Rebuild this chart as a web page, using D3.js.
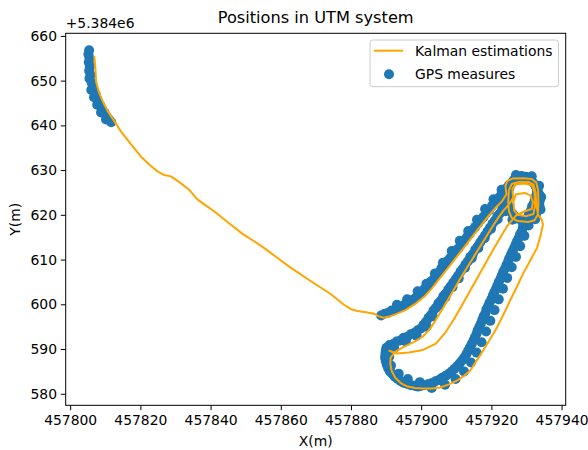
<!DOCTYPE html>
<html><head><meta charset="utf-8">
<script src="https://cdn.jsdelivr.net/npm/d3@7"></script>
<style>body{margin:0;background:#fff;} svg text{font-family:"DejaVu Sans",sans-serif;}</style>
</head><body>
<svg id="chart" width="588" height="450"></svg>
<script>
// ---- data (Y values are relative to the axis offset 5.384e6) ----
const Y_OFFSET_LABEL = "+5.384e6";
const chartTitle = "Positions in UTM system";
const xLabel = "X(m)";
const yLabel = "Y(m)";
const seriesNames = ["Kalman estimations", "GPS measures"];
const xTicks = [457800, 457820, 457840, 457860, 457880, 457900, 457920, 457940];
const yTicks = [580, 590, 600, 610, 620, 630, 640, 650, 660];

const kalmanPath = [
[457806.9,655.3],[457807.2,652.5],[457807.4,649.7],[457808.2,647.4],[457809.3,645.3],[457810.6,643.3],[457812.1,641.5],[457814.5,638.6],[457817.3,635.8],[457820.2,633.0],[457822.6,631.2],[457824.9,629.7],[457826.8,628.9],[457828.7,628.6],[457831.3,627.2],[457833.9,625.6],[457836.3,623.4],[457838.6,622.1],[457841.0,620.8],[457845.8,617.8],[457849.0,615.8],[457852.4,614.1],[457855.2,612.6],[457859.0,610.4],[457862.8,608.2],[457868.5,605.2],[457874.2,602.3],[457878.0,599.9],[457880.0,598.9],[457881.8,598.5],[457884.3,598.2],[457886.5,597.9],[457888.0,597.3],[457889.3,597.0],
[457891.0,597.3],[457892.5,597.7],[457895.5,598.7],[457898.5,600.2],[457901.0,601.8],[457903.0,603.5],[457905.0,605.5],[457907.0,607.5],[457909.0,609.5],[457911.0,611.5],[457913.0,613.5],[457915.0,615.6],[457917.0,617.6],[457919.0,619.6],[457921.0,621.4],[457923.0,623.0],[457924.3,624.6],
[457924.0,626.5],[457924.6,627.6],[457926.0,628.1],[457929.0,628.2],[457931.5,628.0],[457932.8,627.2],[457933.3,625.5],[457933.4,622.5],[457933.2,620.0],[457932.3,618.8],[457930.5,618.4],[457927.5,618.6],[457925.8,619.3],[457925.0,620.8],[457924.8,623.0],[457925.0,625.5],[457925.8,626.9],[457927.5,627.3],[457930.5,627.4],[457932.0,626.8],[457932.6,625.0],[457932.8,622.3],[457933.3,620.0],
[457934.3,619.0],[457934.7,617.9],[457934.0,615.3],[457933.0,612.6],[457931.0,609.7],[457929.0,606.8],[457927.2,603.8],[457925.3,600.8],[457923.5,597.8],[457921.6,594.8],[457919.6,592.2],[457917.6,589.6],[457915.8,587.4],[457914.0,585.2],[457912.2,584.0],[457910.3,583.0],[457907.9,582.1],[457905.4,581.4],[457903.0,581.2],[457900.6,581.2],[457898.3,581.3],[457896.1,581.6],[457894.2,582.4],[457892.6,583.6],[457891.6,585.1],[457891.2,586.7],[457891.3,588.1],
[457892.5,589.3],[457895.0,590.5],[457898.0,591.6],[457900.5,592.8],[457902.5,594.5],[457904.0,596.3],[457905.5,598.2],[457907.0,600.2],[457908.5,602.2],[457910.0,604.2],[457911.5,606.2],[457913.0,608.1],[457914.5,610.0],[457916.0,611.9],[457917.5,613.8],[457919.0,615.7],[457920.5,617.6],[457922.0,619.4],[457923.5,621.0],[457925.0,622.3],
[457926.2,623.8],[457926.0,625.8],[457926.8,626.8],[457929.5,627.0],[457931.6,626.6],[457932.3,625.0],[457932.4,622.0],[457932.0,620.2],[457930.0,619.7],[457927.5,620.0],[457926.5,621.0],[457926.3,623.0],[457927.0,624.6],[457929.5,624.9],[457931.2,624.3],[457931.8,622.8],[457931.5,621.3],[457929.5,620.8],
[457927.0,619.8],[457924.5,617.5],[457922.0,614.2],[457919.5,610.8],[457917.0,607.3],[457914.5,603.8],[457912.0,600.3],[457909.5,596.9],[457907.0,593.8],[457904.2,591.2],[457900.5,589.8],[457896.5,589.2],[457893.0,589.0],[457891.0,589.6]
];

const gpsStart = [
[457805.4,656.8],[457805.2,655.9],[457805.5,655.0],[457805.3,654.1],[457805.6,653.1],[457805.4,652.2],[457805.8,651.3],[457805.5,650.5],[457806.1,649.6],[457806.4,648.6],[457806.0,647.9],[457806.9,647.7],[457807.3,646.9],[457806.8,646.3],[457807.6,646.0],[457808.0,645.2],[457807.7,644.6],[457808.6,644.4],[457809.1,643.6],[457808.8,642.9],[457809.8,642.8],[457810.4,642.0],[457810.2,641.3],[457811.1,641.3],[457811.7,640.7]
];
const gpsOuter = [
[457888.6,597.5],[457889.6,597.9],[457890.6,598.1],[457891.6,598.6],[457892.6,598.8],[457893.6,599.3],[457894.6,599.5],[457895.6,600.1],[457896.6,600.4],[457897.6,601.0],[457898.5,601.5],[457899.4,602.2],[457900.2,602.6],[457901.0,603.5],[457901.8,604.1],[457902.6,605.0],[457903.4,605.5],[457904.2,606.5],[457905.0,607.1],[457905.8,608.1],[457906.6,608.7],[457907.4,609.6],[457908.2,610.3],[457909.0,611.0],[457909.8,611.9],[457910.6,612.5],[457911.4,613.5],[457912.2,614.1],[457913.0,615.0],[457913.8,615.7],[457914.6,616.6],[457915.4,617.3],[457916.2,618.1],[457917.0,618.9],[457917.8,619.6],[457918.6,620.5],[457919.4,621.1],[457920.2,622.0],[457921.0,622.7],[457921.8,623.6],[457922.6,624.2],[457923.4,625.1],[457924.2,625.7],[457925.0,626.6],[457925.8,627.2],
[457893.1,599.9],[457896.0,601.1],[457899.0,602.9],[457901.5,604.6],[457903.9,606.9],[457906.2,609.3],[457908.7,611.9],[457911.0,614.2],[457913.4,616.4],[457915.9,618.9],[457918.2,621.3],[457920.6,623.5],[457922.9,625.6]
];
const gpsInner = [
[457890.1,590.3],[457891.0,590.9],[457892.0,591.1],[457893.0,591.7],[457894.0,591.9],[457895.0,592.5],[457896.0,592.7],[457897.0,593.3],[457898.0,593.6],[457899.0,594.2],[457899.9,594.6],[457900.7,595.4],[457901.4,596.1],[457902.1,597.0],[457902.8,597.6],[457903.5,598.6],[457904.2,599.2],[457904.9,600.2],[457905.6,600.8],[457906.3,601.8],[457907.0,602.4],[457907.7,603.3],[457908.4,604.0],[457909.1,604.8],[457909.8,605.6],[457910.5,606.4],[457911.2,607.3],[457911.9,608.0],[457912.6,608.9],[457913.3,609.6],[457914.0,610.6],[457914.7,611.2],[457915.4,612.2],[457916.1,612.9],[457916.8,613.8],[457917.5,614.6],[457918.2,615.4],[457918.9,616.3],[457919.6,617.1],[457920.3,618.0],[457921.0,618.7],[457921.7,619.7],[457922.4,620.3],[457923.1,621.3],[457923.8,621.9],[457924.5,622.8],
[457892.3,590.2],[457895.6,591.7],[457898.7,593.0],[457901.5,595.0],[457903.3,597.3],[457905.1,599.8],[457906.9,601.5],[457908.9,603.8],[457910.7,605.8],[457912.5,608.2],[457914.4,610.3],[457916.3,612.6],[457918.1,614.8],[457919.9,616.9],[457921.8,619.0],[457923.6,621.0]
];
const gpsRight = [
[457933.0,625.2],[457932.8,624.3],[457932.4,623.5],[457932.1,622.6],[457931.6,621.9],[457931.3,621.0],[457930.7,620.3],[457930.4,619.4],[457929.9,618.8],[457929.5,617.9],[457929.0,617.2],[457928.7,616.3],[457928.2,615.7],[457927.8,614.8],[457927.3,614.1],[457926.9,613.3],[457926.5,612.6],[457926.0,611.8],[457925.6,611.1],[457925.1,610.3],[457924.8,609.6],[457924.3,608.8],[457923.9,608.0],[457923.4,607.3],[457923.0,606.5],[457922.6,605.7],[457922.1,605.0],[457921.7,604.2],[457921.3,603.4],[457920.8,602.7],[457920.4,601.9],[457920.0,601.1],[457919.5,600.4],[457919.1,599.6],[457918.6,598.9],[457918.3,598.0],[457917.8,597.3],[457917.4,596.5],[457917.0,595.7],[457916.6,595.0],[457916.1,594.2],[457915.8,593.4],[457915.3,592.6],[457914.9,591.9],[457914.4,591.1],[457913.9,590.4],[457913.4,589.6],[457912.9,588.9],[457912.3,588.1],[457911.7,587.5],[457911.0,586.8],[457910.3,586.2],[457909.5,585.6],[457908.7,585.0],[457907.9,584.5],[457907.0,584.0],[457906.0,583.6],[457905.1,583.1],[457904.1,582.8],[457903.1,582.4],[457902.1,582.2],[457901.1,581.9],[457900.1,581.8],[457899.1,581.6],[457898.1,581.8],[457897.1,581.9],[457896.1,582.2],[457895.1,582.4],[457894.2,582.8],[457893.3,583.3],[457892.5,583.8],[457891.8,584.4],[457891.1,585.0],[457890.6,585.7],[457890.2,586.5],[457889.9,587.3],[457889.7,588.1],[457889.8,588.9],[457889.9,589.6],
[457933.6,624.6],[457932.8,622.0],[457931.9,620.0],[457930.6,617.6],[457929.4,615.3],[457928.2,613.0],[457927.0,610.6],[457925.8,608.3],[457924.5,605.9],[457923.3,603.5],[457922.1,601.1],[457920.9,598.7],[457919.7,596.3],[457918.5,593.9],[457917.2,591.5],[457915.8,589.2],[457914.2,587.0],[457912.2,585.0],[457909.8,583.3],[457906.8,582.0],[457903.0,581.3],[457899.6,582.6],[457896.2,583.3],[457893.6,584.5],[457891.4,586.3],[457890.9,588.3]
];
const gpsCorner = [
[457925.5,626.8],[457926.5,627.9],[457927.5,628.5],[457928.6,628.7],[457929.8,628.5],[457930.9,628.0],[457931.8,627.3],[457932.6,626.4],[457933.2,625.4],[457933.6,624.3],[457933.8,623.2],[457933.7,622.1],[457933.3,621.0],[457932.7,620.1],[457931.9,619.4],[457930.9,618.9],[457929.9,618.7],[457928.8,618.8],[457927.8,619.1],[457926.8,619.6],[457926.0,620.3],[457925.3,621.1],[457924.8,622.0],[457924.5,623.0],[457924.5,624.0],[457924.7,625.0],[457925.1,625.9],
[457927.0,628.9],[457931.5,628.6],[457933.6,626.5],[457934.2,624.0],[457934.0,621.2],[457932.5,619.0],[457929.0,618.2],[457926.0,618.9],[457924.0,620.8],[457923.5,623.2],[457924.0,625.8]
];
const gpsMeasures = [].concat(gpsStart, gpsOuter, gpsInner, gpsRight, gpsCorner);

// ---- layout ----
const W = 588, H = 450;
const plot = {left: 65.7, right: 565.7, top: 33.3, bottom: 405.3};
const FONT = 13.9;
const colors = {kalman: "#ffa500", gps: "#1f77b4"};

const svg = d3.select("#chart");
svg.append("rect").attr("width", W).attr("height", H).attr("fill", "#fff");

const allX = kalmanPath.map(d => d[0]).concat(gpsMeasures.map(d => d[0]));
const allY = kalmanPath.map(d => d[1]).concat(gpsMeasures.map(d => d[1]));
const [x0, x1] = d3.extent(allX), [y0, y1] = d3.extent(allY);
const mx = (x1 - x0) * 0.05, my = (y1 - y0) * 0.05;
const x = d3.scaleLinear().domain([x0 - mx, x1 + mx]).range([plot.left, plot.right]);
const y = d3.scaleLinear().domain([y0 - my, y1 + my]).range([plot.bottom, plot.top]);

// scatter
svg.append("g").selectAll("circle").data(gpsMeasures).join("circle")
  .attr("cx", d => x(d[0])).attr("cy", d => y(d[1])).attr("r", 5.0)
  .attr("fill", colors.gps);

// line
const line = d3.line().x(d => x(d[0])).y(d => y(d[1]));
svg.append("path").datum(kalmanPath).attr("d", line)
  .attr("fill", "none").attr("stroke", colors.kalman).attr("stroke-width", 2)
  .attr("stroke-linejoin", "round").attr("stroke-linecap", "square");

// axes
function styleAxis(g) {
  g.select(".domain").remove();
  g.attr("font-size", FONT).attr("font-family", "DejaVu Sans");
  g.selectAll(".tick line").attr("stroke", "#000").attr("stroke-width", 1);
  g.selectAll(".tick text").attr("fill", "#000");
}
svg.append("g").attr("transform", `translate(0,${plot.bottom})`)
  .call(d3.axisBottom(x).tickValues(xTicks).tickFormat(d3.format("d")).tickSize(4.9).tickPadding(5.2))
  .call(styleAxis);
svg.append("g").attr("transform", `translate(${plot.left},0)`)
  .call(d3.axisLeft(y).tickValues(yTicks).tickFormat(d3.format("d")).tickSize(4.9).tickPadding(3.8))
  .call(styleAxis);

// frame
svg.append("rect").attr("x", plot.left).attr("y", plot.top)
  .attr("width", plot.right - plot.left).attr("height", plot.bottom - plot.top)
  .attr("fill", "none").attr("stroke", "#000").attr("stroke-width", 1);

// texts
const cx = (plot.left + plot.right) / 2;
svg.append("text").attr("x", cx).attr("y", 23).attr("text-anchor", "middle")
  .attr("font-size", 16.2).attr("fill", "#000").text(chartTitle);
svg.append("text").attr("x", plot.left).attr("y", 28).attr("font-size", FONT)
  .attr("fill", "#000").text(Y_OFFSET_LABEL);
svg.append("text").attr("x", cx).attr("y", 446).attr("text-anchor", "middle")
  .attr("font-size", FONT).attr("fill", "#000").text(xLabel);
svg.append("text").attr("transform", `translate(20,${(plot.top + plot.bottom) / 2}) rotate(-90)`)
  .attr("text-anchor", "middle").attr("font-size", FONT).attr("fill", "#000").text(yLabel);

// legend
const lg = svg.append("g");
lg.append("rect").attr("x", 370).attr("y", 40).attr("width", 188.5).attr("height", 46.7)
  .attr("rx", 2.8).attr("fill", "#fff").attr("fill-opacity", 0.8)
  .attr("stroke", "#cccccc").attr("stroke-width", 1);
lg.append("line").attr("x1", 374).attr("x2", 403).attr("y1", 50.7).attr("y2", 50.7)
  .attr("stroke", colors.kalman).attr("stroke-width", 2);
lg.append("circle").attr("cx", 389).attr("cy", 74.3).attr("r", 5.0).attr("fill", colors.gps);
lg.selectAll("text.lab").data(seriesNames).join("text").attr("class", "lab")
  .attr("x", 415).attr("y", (d, i) => 50.7 + i * 23.6).attr("dy", "0.36em")
  .attr("font-size", FONT).attr("fill", "#000").text(d => d);
</script>
</body></html>
